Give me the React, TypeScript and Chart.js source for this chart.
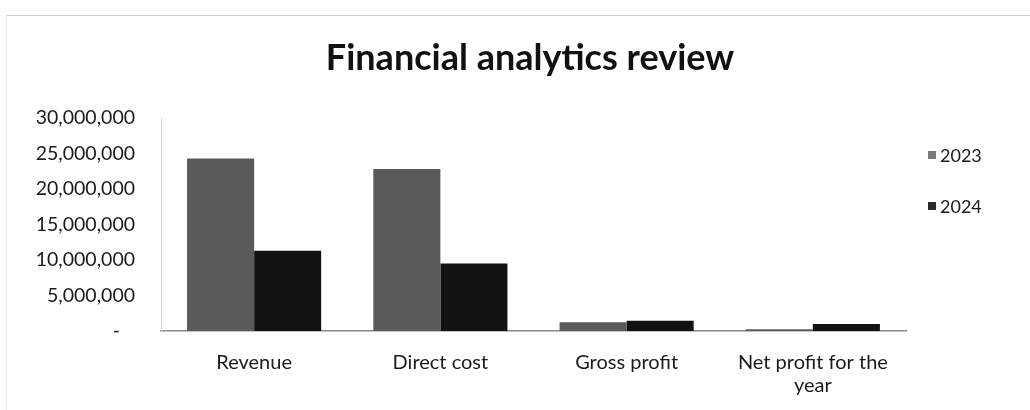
import React, { useEffect, useRef } from "react";
import { Chart, registerables } from "chart.js";

Chart.register(...registerables);

const categories: (string | string[])[] = [
  "Revenue",
  "Direct cost",
  "Gross profit",
  ["Net profit for the", "year"],
];
const seriesLabels = ["2023", "2024"];
const values2023 = [24300000, 22800000, 1250000, 250000];
const values2024 = [11300000, 9500000, 1450000, 1000000];
const yTicksMax = 30000000;
const yTicksStep = 5000000;

const FONT = "Lato, 'Open Sans', sans-serif";

const legendPlugin = {
  id: "sideLegend",
  afterDraw(chart: any) {
    const { ctx, chartArea } = chart;
    ctx.save();
    ctx.font = `18px ${FONT}`;
    ctx.textBaseline = "middle";
    ctx.textAlign = "left";
    chart.data.datasets.forEach((ds: any, i: number) => {
      const cy = chartArea.top + 37 + i * 51;
      const bx = chartArea.right + 22;
      ctx.fillStyle = ds.legendColor || ds.backgroundColor;
      ctx.fillRect(bx, cy - 4, 8, 8);
      ctx.fillStyle = "#1a1a1a";
      ctx.fillText(ds.label, bx + 12, cy + 1);
    });
    ctx.restore();
  },
};

export default function App() {
  const ref = useRef<HTMLCanvasElement>(null);
  useEffect(() => {
    if (!ref.current) return;
    const chart = new Chart(ref.current, {
      type: "bar",
      data: {
        labels: categories,
        datasets: [
          {
            label: seriesLabels[0],
            data: values2023,
            backgroundColor: "#5a5a5a",
            legendColor: "#7a7a7a",
            categoryPercentage: 0.72,
            barPercentage: 1.0,
          } as any,
          {
            label: seriesLabels[1],
            data: values2024,
            backgroundColor: "#121212",
            legendColor: "#2a2a2a",
            categoryPercentage: 0.72,
            barPercentage: 1.0,
          } as any,
        ],
      },
      options: {
        animation: false,
        responsive: false,
        maintainAspectRatio: false,
        layout: { padding: { left: 30, right: 0, top: 0, bottom: 0 } },
        plugins: {
          legend: { display: false },
          tooltip: { enabled: false },
          title: {
            display: true,
            text: "Financial analytics review",
            color: "#111",
            font: { family: FONT, size: 36, weight: "bold", lineHeight: 1.2 },
            padding: { top: 37, bottom: 37.8 },
          },
        },
        scales: {
          x: {
            grid: { display: false },
            border: { display: true, color: "#8a8a8a", width: 1.5 },
            ticks: {
              color: "#1a1a1a",
              font: { family: FONT, size: 20, lineHeight: 1.15 },
              padding: 12,
              maxRotation: 0,
              autoSkip: false,
            },
            afterFit: (s: any) => {
              s.height = 79;
            },
          },
          y: {
            min: 0,
            max: yTicksMax,
            grid: { display: false, drawTicks: false },
            border: { display: true, color: "#d4d4d4", width: 1 },
            ticks: {
              stepSize: yTicksStep,
              color: "#1a1a1a",
              font: { family: FONT, size: 19.5 },
              padding: 26,
              callback: (v: any) =>
                Number(v) === 0 ? "-   " : Number(v).toLocaleString("en-US"),
            },
            afterFit: (s: any) => {
              s.width = 131;
            },
          },
          legendSpace: {
            type: "linear",
            position: "right",
            display: true,
            grid: { display: false },
            border: { display: false },
            ticks: { display: false },
            afterFit: (s: any) => {
              s.width = 124;
            },
          },
        },
      },
      plugins: [legendPlugin],
    });
    return () => chart.destroy();
  }, []);
  return (
    <div style={{ position: "fixed", left: 0, top: 0, width: 1030, height: 410, background: "#fff" }}>
      <div
        style={{
          position: "absolute",
          left: 6,
          top: 15,
          width: 1030,
          height: 420,
          borderTop: "1px solid #cfcfcf",
          borderLeft: "1px solid #e6e6e6",
        }}
      />
      <canvas ref={ref} width={1030} height={410} style={{ position: "absolute", left: 0, top: 0, display: "block" }} />
    </div>
  );
}
